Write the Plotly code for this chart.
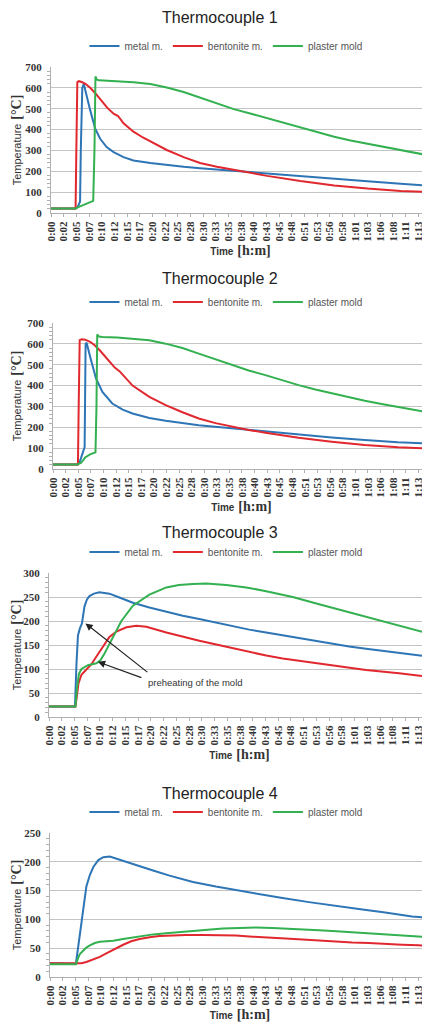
import plotly.graph_objects as go

# ---------------- data (time in minutes, temperature in °C) ----------------
TICK_STEP = 2.55
TICK_LABELS = ["0:00", "0:02", "0:05", "0:07", "0:10", "0:12", "0:15", "0:17", "0:20", "0:22",
               "0:25", "0:28", "0:30", "0:33", "0:35", "0:38", "0:40", "0:43", "0:45", "0:48",
               "0:51", "0:53", "0:56", "0:58", "1:01", "1:03", "1:06", "1:08", "1:11", "1:13"]
SERIES_NAMES = ["metal m.", "bentonite m.", "plaster mold"]
TITLES = ["Thermocouple 1", "Thermocouple 2", "Thermocouple 3", "Thermocouple 4"]

# Thermocouple 1
tc1_metal_t = [0, 4.9, 5.4, 5.85, 6.0, 6.3, 6.6, 7.2, 7.9, 8.9, 9.9, 11.2, 12.6, 14.6, 16.6, 20, 23.3,
               26.7, 30, 33.4, 36.8, 40.1, 43.5, 50.2, 57, 63.7, 70.4, 76.3]
tc1_metal_v = [22, 22, 30, 55, 300, 600, 618, 556, 492, 404, 356, 316, 292, 268, 252, 240, 230,
               222, 215, 209, 203, 197, 191, 178, 165, 152, 140, 131]
tc1_bent_t = [0, 4.95, 5.1, 5.3, 5.6, 6.2, 7.0, 8.0, 9.0, 10.0, 11.3, 12.6, 13.5, 14.6, 16.6, 18.5, 20,
              23.3, 26.7, 30, 33.4, 36.8, 40.1, 43.5, 50.2, 57, 63.7, 70.4, 76.3]
tc1_bent_v = [22, 22, 300, 628, 632, 628, 618, 598, 572, 545, 505, 476, 465, 430, 390, 362, 342,
              302, 268, 240, 222, 207, 192, 178, 153, 132, 117, 106, 100]
tc1_plas_t = [0, 5.0, 5.5, 6.5, 7.5, 8.5, 8.75, 8.95, 9.2, 9.6, 10.5, 13, 16.6, 20, 23.3, 26.7, 30,
              33.4, 36.8, 40.1, 43.5, 46.9, 50.2, 53.6, 57, 60.3, 63.7, 67.1, 70.4, 73.8, 76.3]
tc1_plas_v = [22, 22, 28, 38, 48, 58, 300, 655, 640, 636, 635, 632, 627, 618, 602, 580, 553,
              524, 498, 477, 455, 430, 408, 386, 366, 348, 332, 316, 302, 287, 275]

# Thermocouple 2
tc2_metal_t = [0, 5.0, 5.5, 6.0, 6.4, 6.6, 6.8, 7.7, 8.7, 10.0, 12.0, 14.1, 16.1, 19.5, 22.8, 29.5,
               36.2, 43.0, 49.7, 56.4, 63.1, 69.8, 75.8]
tc2_metal_v = [22, 22, 40, 80, 105, 600, 605, 521, 434, 370, 314, 285, 266, 245, 231, 210,
               195, 179, 163, 151, 139, 128, 123]
tc2_bent_t = [0, 5.05, 5.2, 5.4, 5.8, 6.5, 7.5, 8.5, 9.5, 10.5, 11.5, 12.5, 13.5, 14.5, 16.1, 19.5,
              22.8, 26.2, 29.5, 32.9, 36.2, 39.6, 43.0, 49.7, 56.4, 63.1, 69.8, 75.8]
tc2_bent_v = [22, 22, 300, 618, 622, 620, 610, 592, 568, 540, 510, 486, 468, 440, 400, 346,
              306, 272, 242, 220, 203, 187, 174, 150, 131, 115, 104, 98]
tc2_plas_t = [0, 5.0, 5.7, 6.5, 7.5, 8.6, 8.8, 8.95, 9.3, 10, 13, 16.1, 19.5, 22.8, 26.2, 29.5, 32.9,
              36.2, 39.6, 43, 46.4, 49.7, 53.1, 56.4, 59.8, 63.1, 66.5, 69.8, 73.2, 75.8]
tc2_plas_v = [22, 22, 30, 55, 70, 80, 300, 645, 635, 633, 630, 625, 617, 601, 580, 553, 526,
              498, 472, 450, 425, 402, 381, 362, 344, 327, 312, 298, 284, 272]

# Thermocouple 3
tc3_metal_t = [0, 5.2, 5.5, 5.8, 6.2, 6.6, 7.1, 7.6, 8.1, 9.0, 10.1, 12.1, 14.1, 16.8, 20.1, 23.5,
               26.8, 30.1, 33.5, 36.8, 40.1, 43.5, 46.8, 50.1, 53.5, 56.8, 60.1, 63.5, 66.8, 70.1,
               73.5, 76]
tc3_metal_v = [22, 22, 110, 170, 185, 195, 230, 245, 252, 257, 260, 257, 249, 238, 228, 219,
               211, 204, 196, 189, 182, 176, 170, 164, 158, 153, 147, 142, 138, 134, 130, 126]
tc3_bent_t = [0, 5.3, 5.6, 5.9, 6.5, 7.5, 8.5, 9.5, 10.8, 12.1, 13.5, 15.5, 17.5, 19.5, 23.5, 26.8,
              30.1, 33.5, 36.8, 40.1, 43.5, 46.8, 50.1, 56.8, 63.5, 70.1, 76]
tc3_bent_v = [22, 22, 45, 70, 88, 98, 110, 126, 146, 167, 178, 187, 190, 188, 176, 167,
              159, 151, 143, 135, 128, 122, 117, 107, 98, 91, 84]
tc3_plas_t = [0, 5.3, 5.6, 6.0, 6.5, 7.8, 9.5, 10.3, 11.0, 12.5, 14.5, 16.8, 20.1, 23.5, 26.0, 28.8,
              31.5, 35.5, 39.5, 43.5, 48.8, 54.1, 59.5, 64.8, 70.1, 76]
tc3_plas_v = [22, 22, 60, 90, 100, 108, 112, 118, 130, 160, 200, 232, 255, 270, 275, 277,
              278, 275, 270, 262, 250, 235, 220, 205, 190, 174]

# Thermocouple 4
tc4_metal_t = [0, 5.2, 5.7, 6.2, 6.7, 7.3, 8.0, 8.7, 9.7, 10.7, 12.0, 12.7, 14.0, 17.3, 20.7, 24.0,
               28.7, 33.3, 38.0, 42.0, 46.7, 52.0, 57.3, 62.0, 67.3, 72.7, 76]
tc4_metal_v = [24, 23, 55, 90, 122, 157, 177, 191, 203, 208, 209, 207, 203, 194, 185, 176,
               165, 157, 150, 143, 137, 130, 123, 118, 112, 105, 103]
tc4_bent_t = [0, 6.3, 7.3, 8.7, 10.0, 11.3, 13.0, 14.7, 16.3, 18.0, 20.0, 22.0, 24.7, 27.3, 30.7,
              34.0, 37.3, 40.7, 44.0, 47.3, 50.7, 54.0, 57.3, 60.7, 64.0, 67.3, 70.7, 74.0, 76]
tc4_bent_v = [24, 24, 26, 30, 35, 41, 49, 56, 62, 66, 69, 71, 72, 73, 73,
              73, 72, 70, 69, 67, 65, 63, 62, 60, 59, 57, 56, 55, 54]
tc4_plas_t = [0, 5.2, 5.6, 6.0, 6.7, 7.3, 8.0, 9.0, 10.0, 11.3, 12.7, 14.7, 16.7, 18.7, 20.7, 23.3,
              26.0, 28.7, 31.3, 34.7, 38.0, 41.3, 44.7, 48.0, 51.3, 54.0, 56.7, 60.0, 63.3, 66.7,
              70.0, 73.3, 76]
tc4_plas_v = [22, 22, 32, 40, 46, 51, 55, 59, 61, 62, 63, 66, 69, 72, 74, 76,
              78, 80, 82, 84, 85, 86, 85, 84, 82, 81, 80, 78, 76, 74, 72, 70, 69]

Y_MAX = [700, 700, 300, 250]
Y_DTICK = [100, 100, 50, 50]
X_MAX = 76.3

# ---------------- layout geometry (page pixels) ----------------
PAGE_W, PAGE_H = 430, 1023
OFF = 8                       # default page body margin of the html page
W, H = PAGE_W - OFF, PAGE_H - OFF
COLORS = ["#2e75b6", "#e0282e", "#33b04f"]
panels = [
    dict(left=51, top=67, bottom=213, title_y=18, legend_y=46,
         data=[(tc1_metal_t, tc1_metal_v), (tc1_bent_t, tc1_bent_v), (tc1_plas_t, tc1_plas_v)]),
    dict(left=53, top=323, bottom=469, title_y=279, legend_y=302,
         data=[(tc2_metal_t, tc2_metal_v), (tc2_bent_t, tc2_bent_v), (tc2_plas_t, tc2_plas_v)]),
    dict(left=49, top=573, bottom=717, title_y=532, legend_y=552,
         data=[(tc3_metal_t, tc3_metal_v), (tc3_bent_t, tc3_bent_v), (tc3_plas_t, tc3_plas_v)]),
    dict(left=50, top=833, bottom=977, title_y=793, legend_y=812,
         data=[(tc4_metal_t, tc4_metal_v), (tc4_bent_t, tc4_bent_v), (tc4_plas_t, tc4_plas_v)]),
]


def px_x(px):
    return (px - OFF) / W


def px_y(px):
    return 1 - (px - OFF) / H


fig = go.Figure()
serif = "Liberation Serif, Times New Roman, serif"
sans = "Liberation Sans, Arial, sans-serif"
tickvals = [i * TICK_STEP for i in range(len(TICK_LABELS))]

layout = dict(width=W, height=H, margin=dict(l=0, r=0, t=0, b=0, autoexpand=False),
              paper_bgcolor="white", plot_bgcolor="white", showlegend=True)
annotations = []

for k, p in enumerate(panels):
    idx = "" if k == 0 else str(k + 1)
    xa, ya = "x" + idx, "y" + idx
    leg = "legend" + idx
    for j, (t, v) in enumerate(p["data"]):
        fig.add_trace(go.Scatter(x=t, y=v, mode="lines", name=SERIES_NAMES[j],
                                 line=dict(color=COLORS[j], width=2),
                                 xaxis=xa, yaxis=ya, legend=leg))
    layout["xaxis" + idx] = dict(
        domain=[px_x(p["left"]), 1], range=[0, X_MAX], anchor=ya, automargin=False,
        tickmode="array", tickvals=tickvals, ticktext=TICK_LABELS, tickangle=-90,
        tickfont=dict(family=serif, size=11, color="#333333", weight="bold"),
        showgrid=False, zeroline=False, showline=True, linecolor="#b0b0b0",
        ticks="outside", ticklen=3, tickcolor="#b0b0b0",
        title=dict(text="<b><span style='font-size:10px'>Time</span> "
                        "<span style='font-family:Liberation Serif;font-size:14px'>[h:m]</span></b>",
                   font=dict(family=sans, size=14, color="#333333"), standoff=4),
    )
    layout["yaxis" + idx] = dict(
        domain=[px_y(p["bottom"]), px_y(p["top"])], range=[0, Y_MAX[k]], anchor=xa,
        dtick=Y_DTICK[k], automargin=False,
        tickfont=dict(family=serif, size=11, color="#333333", weight="bold"),
        showgrid=True, gridcolor="#c4c4c4", gridwidth=1, zeroline=False,
        showline=True, linecolor="#b0b0b0", ticks="", ticklabelstandoff=6,
        minor=dict(dtick=Y_DTICK[k] / 5, ticks="outside", ticklen=3, tickcolor="#b0b0b0",
                   showgrid=False),
        title=dict(text="<span style='font-size:11px'>Temperature</span> "
                        "<b><span style='font-family:Liberation Serif;font-size:14px'>[°C]</span></b>",
                   font=dict(family=sans, size=14, color="#333333"), standoff=2),
    )
    layout[leg] = dict(orientation="h", x=px_x(226), xanchor="center",
                       y=px_y(p["legend_y"]), yanchor="middle",
                       font=dict(family=sans, size=10, color="#555555"),
                       bgcolor="rgba(0,0,0,0)", itemwidth=30, tracegroupgap=0)
    annotations.append(dict(text=TITLES[k], x=px_x(220), y=px_y(p["title_y"]),
                            xref="paper", yref="paper", showarrow=False,
                            xanchor="center", yanchor="middle",
                            font=dict(family=sans, size=16, color="#222222")))

# Annotation of thermocouple 3: preheating arrows
annotations += [
    dict(x=7.3, y=195, ax=20.0, ay=91, xref="x3", yref="y3", axref="x3", ayref="y3",
         showarrow=True, arrowhead=2, arrowsize=1.2, arrowwidth=1.2, arrowcolor="#222222", text=""),
    dict(x=9.8, y=115, ax=18.8, ay=81, xref="x3", yref="y3", axref="x3", ayref="y3",
         showarrow=True, arrowhead=2, arrowsize=1.2, arrowwidth=1.2, arrowcolor="#222222", text=""),
    dict(x=29.3, y=71, xref="x3", yref="y3", text="preheating of the mold", showarrow=False,
         font=dict(family=sans, size=9.5, color="#333333")),
]
layout["annotations"] = annotations
fig.update_layout(**layout)
fig.write_html("out.html")
